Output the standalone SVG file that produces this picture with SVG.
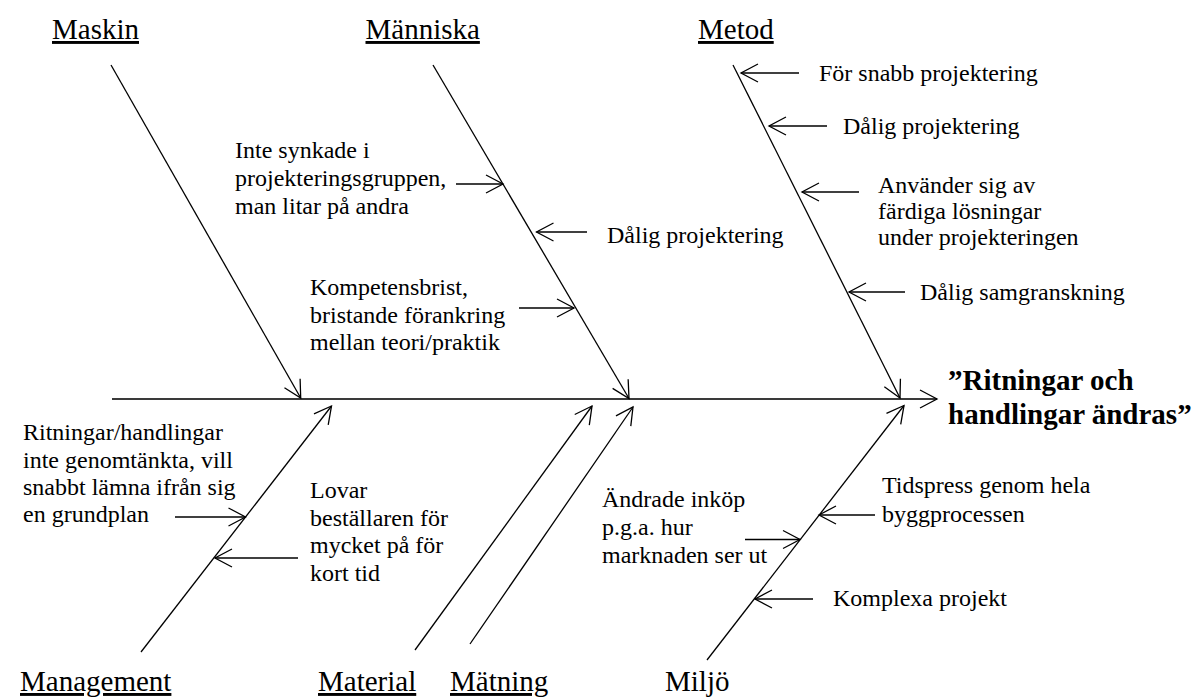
<svg xmlns="http://www.w3.org/2000/svg" width="1196" height="699" viewBox="0 0 1196 699">
  <style>
    text { font-family: "Liberation Serif", "Times New Roman", serif; fill: #000; }
    .cat { font-size: 29px; }
    .u { text-decoration: underline; }
    .cause { font-size: 24px; }
    .effect { font-size: 29px; font-weight: bold; }
    .spine { stroke: #3a3a3a; stroke-width: 2; fill: none; }
    .arr { stroke: #000; stroke-width: 1.3; fill: none; marker-end: url(#head); }
  </style>
  <defs>
    <marker id="head" markerUnits="userSpaceOnUse" markerWidth="40" markerHeight="40" viewBox="-20 -20 40 40" refX="0" refY="0" orient="auto" overflow="visible">
      <path d="M-17,-9 L0,0 L-17,9" fill="none" stroke="#000" stroke-width="1.3"/>
    </marker>
  </defs>

  <!-- main spine, bones and cause arrows -->
  <g id="connectors">
    <line class="spine" x1="112" y1="399" x2="937" y2="399" marker-end="url(#head)"/>
    <!-- upper bones -->
    <line class="arr" x1="111" y1="65" x2="300.7" y2="398"/>
    <line class="arr" x1="433" y1="65" x2="629" y2="398.5"/>
    <line class="arr" x1="733" y1="65" x2="900" y2="398"/>
    <!-- lower bones -->
    <line class="arr" x1="141" y1="652" x2="331.5" y2="406"/>
    <line class="arr" x1="415" y1="650" x2="592" y2="406"/>
    <line class="arr" x1="470" y1="644" x2="633" y2="407"/>
    <line class="arr" x1="707" y1="660" x2="904" y2="405.5"/>
    <!-- Metod causes -->
    <line class="arr" x1="799" y1="73" x2="741" y2="73"/>
    <line class="arr" x1="827" y1="126" x2="769" y2="126"/>
    <line class="arr" x1="859" y1="192" x2="802" y2="192"/>
    <line class="arr" x1="905" y1="292" x2="849" y2="292"/>
    <!-- Människa causes -->
    <line class="arr" x1="456" y1="184" x2="503" y2="184"/>
    <line class="arr" x1="587" y1="232" x2="536.5" y2="232"/>
    <line class="arr" x1="519" y1="308" x2="574" y2="308"/>
    <!-- Management causes -->
    <line class="arr" x1="175" y1="517" x2="245.5" y2="517"/>
    <line class="arr" x1="298" y1="558" x2="215" y2="558"/>
    <!-- Material / Miljö causes -->
    <line class="arr" x1="745" y1="539.5" x2="800" y2="539.5"/>
    <line class="arr" x1="875" y1="515" x2="819" y2="515"/>
    <line class="arr" x1="813" y1="599" x2="755" y2="599"/>
  </g>

  <!-- category labels -->
  <g id="maskin"><text class="cat u" x="52" y="39">Maskin</text></g>
  <g id="manniska"><text class="cat u" x="365.5" y="39">Människa</text></g>
  <g id="metod"><text class="cat u" x="698" y="39">Metod</text></g>
  <g id="management"><text class="cat u" x="20" y="691">Management</text></g>
  <g id="material"><text class="cat u" x="318" y="691">Material</text></g>
  <g id="matning"><text class="cat u" x="450" y="691">Mätning</text></g>
  <g id="miljo"><text class="cat" x="665" y="691">Miljö</text></g>

  <!-- effect -->
  <g id="effekt">
    <text class="effect" x="948" y="390">”Ritningar och</text>
    <text class="effect" x="948" y="424">handlingar ändras”</text>
  </g>

  <!-- Metod causes -->
  <g id="for-snabb"><text class="cause" x="819" y="81">För snabb projektering</text></g>
  <g id="dalig-projektering-metod"><text class="cause" x="843" y="134">Dålig projektering</text></g>
  <g id="fardiga-losningar">
    <text class="cause" x="878" y="193">Använder sig av</text>
    <text class="cause" x="878" y="219">färdiga lösningar</text>
    <text class="cause" x="878" y="245">under projekteringen</text>
  </g>
  <g id="samgranskning"><text class="cause" x="920" y="300">Dålig samgranskning</text></g>

  <!-- Människa causes -->
  <g id="inte-synkade">
    <text class="cause" x="235" y="158">Inte synkade i</text>
    <text class="cause" x="235" y="186">projekteringsgruppen,</text>
    <text class="cause" x="235" y="214">man litar på andra</text>
  </g>
  <g id="dalig-projektering"><text class="cause" x="607" y="243">Dålig projektering</text></g>
  <g id="kompetensbrist">
    <text class="cause" x="310" y="295">Kompetensbrist,</text>
    <text class="cause" x="310" y="322.5">bristande förankring</text>
    <text class="cause" x="310" y="350">mellan teori/praktik</text>
  </g>

  <!-- Management causes -->
  <g id="genomtankta">
    <text class="cause" x="23" y="440">Ritningar/handlingar</text>
    <text class="cause" x="23" y="467.5">inte genomtänkta, vill</text>
    <text class="cause" x="23" y="495">snabbt lämna ifrån sig</text>
    <text class="cause" x="23" y="522">en grundplan</text>
  </g>
  <g id="lovar">
    <text class="cause" x="310" y="498">Lovar</text>
    <text class="cause" x="310" y="525.5">beställaren för</text>
    <text class="cause" x="310" y="553">mycket på för</text>
    <text class="cause" x="310" y="580.5">kort tid</text>
  </g>

  <!-- Material / Miljö causes -->
  <g id="andrade-inkop">
    <text class="cause" x="602" y="507">Ändrade inköp</text>
    <text class="cause" x="602" y="535">p.g.a. hur</text>
    <text class="cause" x="602" y="563">marknaden ser ut</text>
  </g>
  <g id="tidspress">
    <text class="cause" x="882" y="493">Tidspress genom hela</text>
    <text class="cause" x="882" y="521.5">byggprocessen</text>
  </g>
  <g id="komplexa"><text class="cause" x="833" y="606">Komplexa projekt</text></g>
</svg>
